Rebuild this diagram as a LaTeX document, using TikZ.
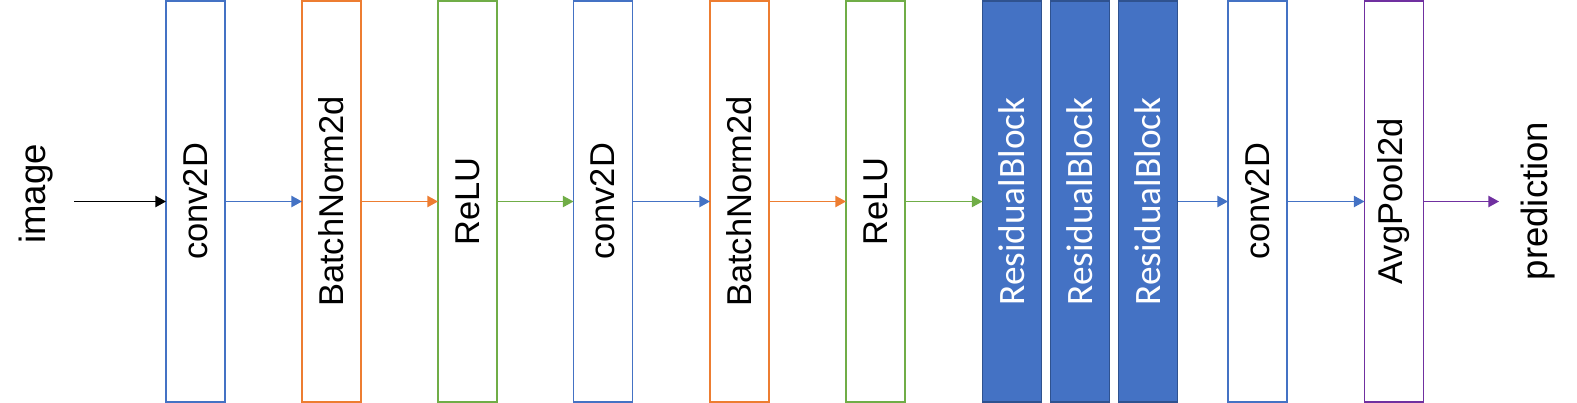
\documentclass[tikz,border=0pt]{standalone}
\usepackage{fontspec}
\setmainfont{Liberation Sans}
\newfontfamily\carlito{Carlito}
\usepackage{graphicx}
\usepackage{xcolor}
\definecolor{netblue}{RGB}{68, 114, 196}
\definecolor{netdark}{RGB}{47, 82, 143}
\definecolor{netorange}{RGB}{237, 125, 49}
\definecolor{netgreen}{RGB}{112, 173, 71}
\definecolor{netpurple}{RGB}{112, 48, 160}
\usetikzlibrary{arrows.meta}

\begin{document}
\begin{tikzpicture}[
    x=0.025cm, y=-0.025cm,
    layer/.style={draw, line width=1.1pt, fill=white, minimum width=1.475cm, minimum height=10.025cm,
        inner sep=0pt, outer sep=0pt, font=\fontsize{24.5}{29}\selectfont},
    resblock/.style={layer, draw=netdark, fill=netblue, text=white, font=\carlito\fontsize{26.5}{31}\selectfont},
    label/.style={inner sep=0pt, font=\fontsize{26}{31}\selectfont},
    flow/.style={line width=0.9pt, -{Triangle[length=7.5pt, width=8pt]}}
]
\useasboundingbox (0,0) rectangle (1577,402);

% Entrada y salida
\node[label] (img) at (36,194) {\rotatebox{90}{image}};
\node[label] (pred) at (1538,201) {\rotatebox{90}{prediction}};
\coordinate (in) at (74,201.5);
\coordinate (out) at (1499,201.5);

% Capas de la red
\node[layer, draw=netblue] (conv1) at (195.5,201.5) {\rotatebox{90}{conv2D}};
\node[layer, draw=netorange] (bn1) at (331.5,201.5) {\rotatebox{90}{BatchNorm2d}};
\node[layer, draw=netgreen] (relu1) at (467.5,201.5) {\rotatebox{90}{ReLU}};
\node[layer, draw=netblue] (conv2) at (603,201.5) {\rotatebox{90}{conv2D}};
\node[layer, draw=netorange] (bn2) at (739.5,201.5) {\rotatebox{90}{BatchNorm2d}};
\node[layer, draw=netgreen] (relu2) at (875.5,201.5) {\rotatebox{90}{ReLU}};

% Bloques residuales
\node[resblock] (res1) at (1012,201.5) {\rotatebox{90}{ResidualBlock}};
\node[resblock] (res2) at (1080,201.5) {\rotatebox{90}{ResidualBlock}};
\node[resblock] (res3) at (1148,201.5) {\rotatebox{90}{ResidualBlock}};

% Cabeza final
\node[layer, draw=netblue] (conv3) at (1257.5,201.5) {\rotatebox{90}{conv2D}};
\node[layer, draw=netpurple] (pool) at (1394,201.5) {\rotatebox{90}{AvgPool2d}};

% Flechas entre capas
\draw[flow, black] (in) -- (conv1);
\foreach \a/\b/\c in {conv1/bn1/netblue, bn1/relu1/netorange, relu1/conv2/netgreen,
    conv2/bn2/netblue, bn2/relu2/netorange, relu2/res1/netgreen, res3/conv3/netblue,
    conv3/pool/netblue} {
    \draw[flow, \c] (\a) -- (\b);
}
\draw[flow, netpurple] (pool) -- (out);

\end{tikzpicture}
\end{document}
